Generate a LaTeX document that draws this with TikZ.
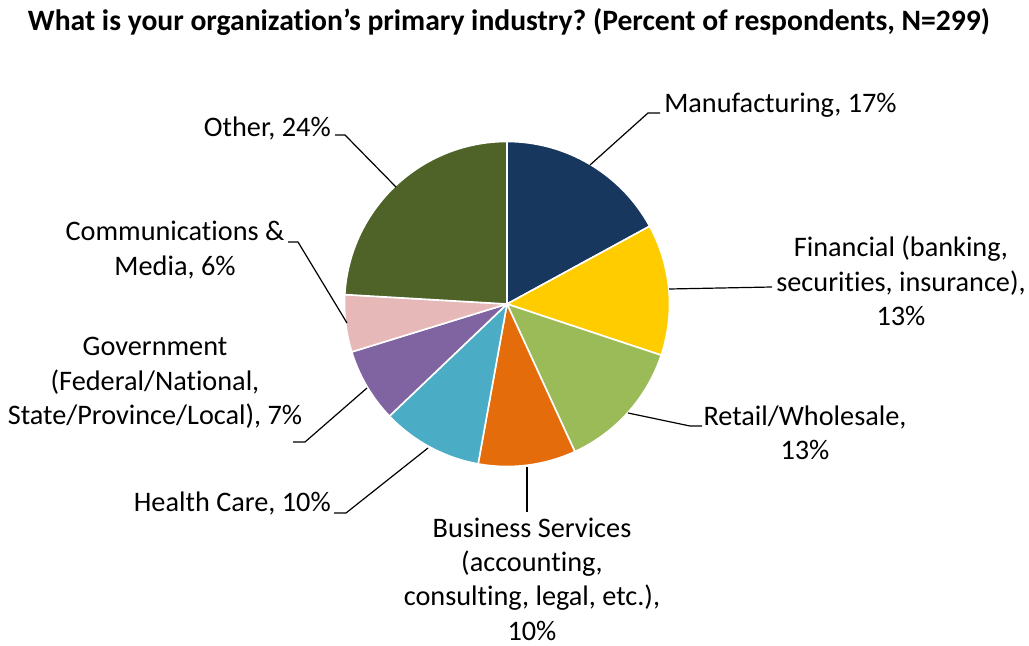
\documentclass[tikz,border=0pt]{standalone}
\usepackage{fontspec}
\setmainfont{Carlito}[Ligatures={NoCommon}]
\frenchspacing
\usetikzlibrary{calc}
\definecolor{cManu}{HTML}{17375E}
\definecolor{cFin}{HTML}{FFCC00}
\definecolor{cRet}{HTML}{9BBB59}
\definecolor{cBus}{HTML}{E46C0A}
\definecolor{cHea}{HTML}{4BACC6}
\definecolor{cGov}{HTML}{8064A2}
\definecolor{cCom}{HTML}{E6B9B8}
\definecolor{cOth}{HTML}{4F6228}
\tikzset{
  slice/.style={fill=#1, draw=white, line width=1.2pt, line join=round},
  leader/.style={draw=black, line width=0.9pt},
  lbl/.style={inner sep=0pt, align=center, font=\fontsize{21.2}{25.8}\selectfont},
}
\newcommand{\pieslice}[3]{\path[slice=#3] (c) -- ($(c)+(#1:162.5)$) arc[start angle=#1, end angle=#2, radius=162.5] -- cycle;}
\begin{document}
\begin{tikzpicture}[x=0.75pt,y=-0.75pt]
\useasboundingbox (0,0) rectangle (1029,646);
\coordinate (c) at (507,304);
% title
\node[inner sep=0pt, font=\bfseries\fontsize{22.2}{26}\selectfont] (title) at (509,22) {What is your organization’s primary industry? (Percent of respondents, N=299)};
% slices (angles in flipped y system: positive = clockwise on screen)
\pieslice{-90}{-28.6}{cManu}
\pieslice{-28.6}{18.36}{cFin}
\pieslice{18.36}{65.32}{cRet}
\pieslice{65.32}{100.24}{cBus}
\pieslice{100.24}{136.36}{cHea}
\pieslice{136.36}{162.85}{cGov}
\pieslice{162.85}{183.32}{cCom}
\pieslice{183.32}{270}{cOth}
% labels
\node[lbl, anchor=west] (manu) at (664,105) {Manufacturing, 17\%};
\node[lbl] (fin) at (901,281) {Financial (banking,\\securities, insurance),\\13\%};
\node[lbl] (ret) at (805,433) {Retail/Wholesale,\\13\%};
\node[lbl] (bus) at (532,579) {Business Services\\(accounting,\\consulting, legal, etc.),\\10\%};
\node[lbl, anchor=east] (hea) at (331,503) {Health Care, 10\%};
\node[lbl] (gov) at (155,383) {Government\\(Federal/National,\\State/Province/Local), 7\%};
\node[lbl] (com) at (175,250) {Communications \&\\Media, 6\%};
\node[lbl, anchor=east] (oth) at (331,128) {Other, 24\%};
% leader lines
\coordinate (m1) at (590,165); \coordinate (m2) at (648,113); \coordinate (m3) at (660,113);
\draw[leader] (m1) -- (m2) -- (m3);
\coordinate (f1) at (669,289); \coordinate (f2) at (772,287);
\draw[leader] (f1) -- (f2);
\coordinate (r1) at (628,413); \coordinate (r2) at (690,426); \coordinate (r3) at (702,426);
\draw[leader] (r1) -- (r2) -- (r3);
\coordinate (b1) at (527,467); \coordinate (b2) at (527,512);
\draw[leader] (b1) -- (b2);
\coordinate (h1) at (428,448); \coordinate (h2) at (346,513); \coordinate (h3) at (334,513);
\draw[leader] (h1) -- (h2) -- (h3);
\coordinate (g1) at (367,388); \coordinate (g2) at (305,442); \coordinate (g3) at (293,442);
\draw[leader] (g1) -- (g2) -- (g3);
\coordinate (k1) at (347,323); \coordinate (k2) at (298,242); \coordinate (k3) at (288,242);
\draw[leader] (k1) -- (k2) -- (k3);
\coordinate (o1) at (396,187); \coordinate (o2) at (345,135); \coordinate (o3) at (335,135);
\draw[leader] (o1) -- (o2) -- (o3);
\end{tikzpicture}
\end{document}
